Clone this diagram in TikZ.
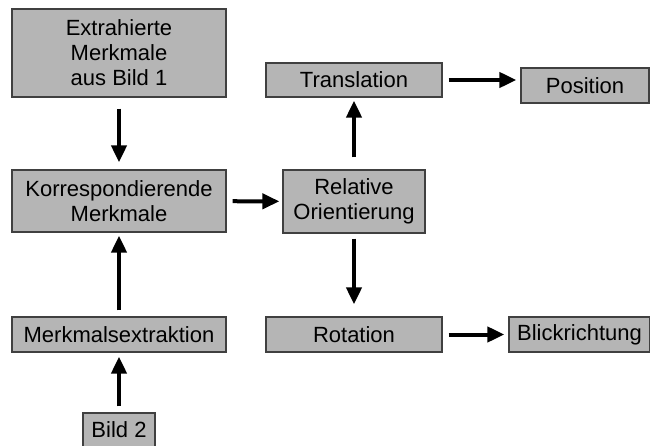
\documentclass[tikz,border=0pt]{standalone}
\usepackage{fontspec}
\setmainfont{Liberation Sans}
\usetikzlibrary{arrows.meta}

\begin{document}
\begin{tikzpicture}[x=1pt, y=-1pt,
    >={Triangle[width=15pt, length=17pt]},
    box/.style={draw=black!75, line width=1.2pt, fill=black!29, align=center,
        inner sep=0pt, font=\fontsize{22}{25}\selectfont},
    flow/.style={->, line width=4pt, shorten <=6pt, shorten >=4pt}]
    \useasboundingbox (0,0) rectangle (650,446);
    \node[box, minimum width=214pt, minimum height=88pt] (extr) at (119,53) {Extrahierte\\Merkmale\\aus Bild 1};
    \node[box, minimum width=214pt, minimum height=62pt] (korr) at (119,201) {Korrespondierende\\Merkmale};
    \node[box, minimum width=214pt, minimum height=35pt] (extraktion) at (119,334.5) {Merkmalsextraktion};
    \node[box, minimum width=72pt, minimum height=34pt] (bild) at (119,430) {Bild 2};
    \node[box, minimum width=142pt, minimum height=63pt] (relor) at (354,201.5) {Relative\\Orientierung};
    \node[box, minimum width=176pt, minimum height=34pt] (trans) at (354,80) {Translation};
    \node[box, minimum width=176pt, minimum height=35pt] (rot) at (354,334.5) {Rotation};
    \node[box, minimum width=128pt, minimum height=35pt] (pos) at (585,85.5) {Position};
    \node[box, minimum width=141pt, minimum height=35pt] (blick) at (579.5,334.5) {Blickrichtung};
    \draw[flow, shorten <=11pt, shorten >=7pt] (extr) -- (korr);
    \draw[flow, shorten >=3pt] (extraktion) -- (korr);
    \draw[flow] (bild) -- (extraktion);
    \draw[flow, shorten >=3pt] (korr) -- (relor);
    \draw[flow, shorten <=12pt, shorten >=3pt] (relor) -- (trans);
    \draw[flow, shorten <=5pt, shorten >=12pt] (relor) -- (rot);
    \draw[flow] (trans.east) -- (trans.east -| pos.west);
    \draw[flow] (rot.east) -- (rot.east -| blick.west);
\end{tikzpicture}
\end{document}
